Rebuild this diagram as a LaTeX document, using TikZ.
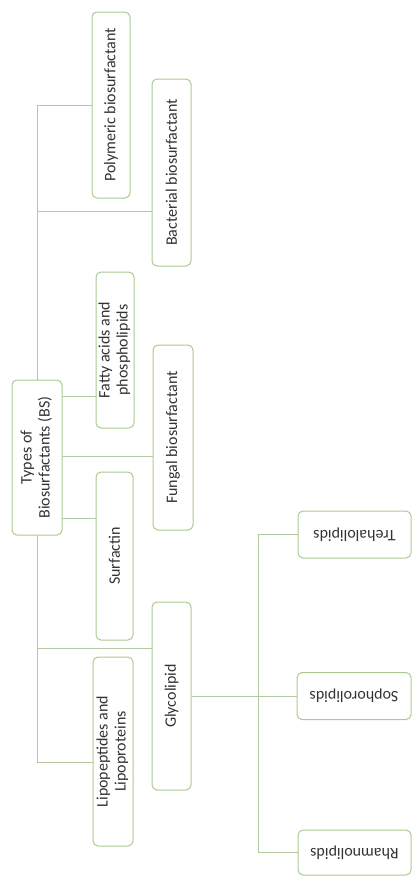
\documentclass[tikz,border=0pt]{standalone}
\usepackage{fontspec}
\setmainfont{Carlito}
\definecolor{boxc}{HTML}{A9CB8E}
\definecolor{linec}{HTML}{B4C8A2}
\definecolor{txt}{HTML}{333333}
\begin{document}
\begin{tikzpicture}[x=1pt,y=-1pt,
  box/.style={draw=boxc, line width=1pt, rounded corners=5pt, fill=white, inner sep=0pt,
    text=txt, font=\fontsize{16}{18}\selectfont, align=center},
  link/.style={draw=linec, line width=0.9pt}]
\useasboundingbox (0,0) rectangle (412,876);
% level 1 boxes
\node[box, minimum width=38, minimum height=186] (poly) at (111,105) {\rotatebox{90}{Polymeric biosurfactant}};
\node[box, minimum width=39, minimum height=187] (bact) at (171.5,172.5) {\rotatebox{90}{Bacterial biosurfactant}};
\node[box, minimum width=38, minimum height=156] (fatty) at (115,350) {\rotatebox{90}{\begin{tabular}{@{}c@{}}Fatty acids and\\phospholipids\end{tabular}}};
\node[box, minimum width=40, minimum height=185] (fungal) at (173,437.5) {\rotatebox{90}{Fungal biosurfactant}};
\node[box, minimum width=50, minimum height=155] (types) at (37,457.5) {\rotatebox{90}{\begin{tabular}{@{}c@{}}Types of\\Biosurfactants (BS)\end{tabular}}};
\node[box, minimum width=37, minimum height=168] (surf) at (114.5,556) {\rotatebox{90}{Surfactin}};
\node[box, minimum width=39, minimum height=188] (glyco) at (171.5,696) {\rotatebox{90}{Glycolipid}};
\node[box, minimum width=40, minimum height=189] (lipo) at (113,751.5) {\rotatebox{90}{\begin{tabular}{@{}c@{}}Lipopeptides and\\Lipoproteins\end{tabular}}};
% glycolipid children
\node[box, minimum width=113, minimum height=47] (treh) at (354.5,534.5) {\rotatebox{180}{Trehalolipids}};
\node[box, minimum width=114, minimum height=47] (soph) at (354,696) {\rotatebox{180}{Sophorolipids}};
\node[box, minimum width=113, minimum height=45] (rham) at (354.5,852.5) {\rotatebox{180}{Rhamnolipids}};
% trunk
\coordinate (tA) at (37,105);
\coordinate (tB) at (37,211);
\coordinate (tG) at (37,648);
\coordinate (tL) at (37,762);
\draw[link] (tA) -- (types.north);
\draw[link] (types.south) -- (tL);
\draw[link] (tA) -- (tA -| poly.west);
\draw[link] (tB) -- (tB -| bact.west);
\draw[link] (tG) -- (tG -| glyco.west);
\draw[link] (tL) -- (tL -| lipo.west);
% connectors from the root box
\coordinate (cF) at (62,396);
\coordinate (cG) at (62,456);
\coordinate (cS) at (62,518);
\draw[link] (cF) -- (cF -| fatty.west);
\draw[link] (cG) -- (cG -| fungal.west);
\draw[link] (cS) -- (cS -| surf.west);
% bracket for glycolipids
\coordinate (bT) at (258,534.5);
\coordinate (bB) at (258,852.5);
\draw[link] (bT) -- (bB);
\draw[link] (bT) -- (treh.west);
\draw[link] (bB) -- (rham.west);
\draw[link] (glyco.east) -- (soph.west);
\end{tikzpicture}
\end{document}
